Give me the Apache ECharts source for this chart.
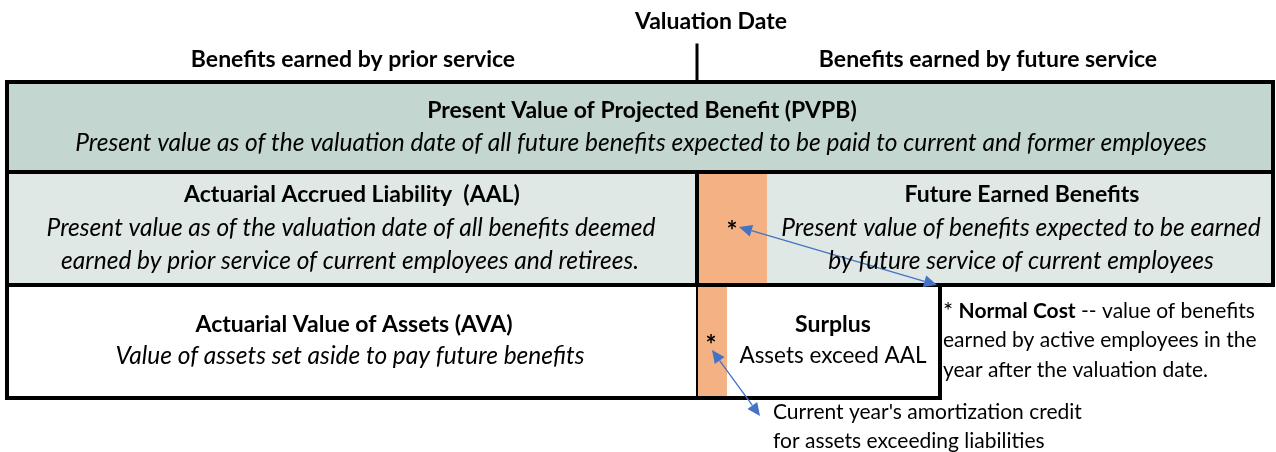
<!DOCTYPE html>
<html>
<head>
<meta charset="utf-8">
<script src="https://cdn.jsdelivr.net/npm/echarts@6/dist/echarts.min.js"></script>
<style>
html, body { margin: 0; padding: 0; background: #fff; }
#main { width: 1276px; height: 452px; }
</style>
</head>
<body>
<div id="main"></div>
<script>
// diagram grid: column and row edges, in frame pixels
var colEdges = [7, 697, 727, 767, 940, 1273];
var rowEdges = [82, 172, 285, 398];

// cells: [col0, col1, row0, row1, fill]
var cells = [
	[0, 5, 0, 1, 'pvpb'],
	[0, 1, 1, 2, 'aal'],
	[1, 3, 1, 2, 'nc'],
	[3, 5, 1, 2, 'aal'],
	[0, 1, 2, 3, 'ava'],
	[1, 2, 2, 3, 'nc'],
	[2, 4, 2, 3, 'ava']
];

// border segments: [x0, y0, x1, y1, weight]
var borders = [
	[697, 45, 697, 82, 3],
	[7, 82, 1273, 82, 4],
	[7, 82, 7, 398, 4],
	[1273, 82, 1273, 285, 4],
	[7, 172, 1273, 172, 4],
	[7, 285, 1273, 285, 4],
	[697, 172, 697, 285, 4],
	[697, 285, 697, 398, 2],
	[940, 285, 940, 398, 4],
	[7, 398, 940, 398, 4]
];

// double headed arrows: [x0, y0, x1, y1]
var arrows = [
	[739, 227, 937, 285],
	[712, 350, 760, 416]
];

// text: [text, x, y, kind, align]
var labels = [
	['Valuation Date', 711, 22, 'b', 'center'],
	['Benefits earned by prior service', 353, 60, 'b', 'center'],
	['Benefits earned by future service', 988, 60, 'b', 'center'],
	['Present Value of Projected Benefit (PVPB)', 642, 111, 'b', 'center'],
	['Present value as of the valuation date of all future benefits expected to be paid to current and former employees', 641, 143, 'i', 'center'],
	['Actuarial Accrued Liability  (AAL)', 352, 195, 'b', 'center'],
	['Present value as of the valuation date of all benefits deemed', 351, 228, 'i', 'center'],
	['earned by prior service of current employees and retirees.', 350, 261, 'i', 'center'],
	['*', 732, 232, 's', 'center'],
	['Future Earned Benefits', 1022, 195, 'b', 'center'],
	['Present value of benefits expected to be earned', 1021, 228, 'i', 'center'],
	['by future service of current employees', 1021, 261, 'i', 'center'],
	['Actuarial Value of Assets (AVA)', 354, 325, 'b', 'center'],
	['Value of assets set aside to pay future benefits', 350, 356, 'i', 'center'],
	['*', 711, 346, 's', 'center'],
	['Surplus', 833, 325, 'b', 'center'],
	['Assets exceed AAL', 833, 356, 'n', 'center'],
	['{a|*} {b|Normal Cost}{s| -- value of benefits}', 943, 311, 'r', 'left'],
	['earned by active employees in the', 943, 340, 'r', 'left'],
	['year after the valuation date.', 943, 370, 'r', 'left'],
	["Current year's amortization credit", 773, 412, 'f', 'left'],
	['for assets exceeding liabilities', 773, 441, 'f', 'left']
];

var fills = { pvpb: '#c3d6cf', aal: '#dfe8e5', nc: '#f4b183', ava: '#ffffff' };
var family = 'Lato, "Open Sans", sans-serif';
var fonts = {
	b: 'bold 23px ' + family,
	i: 'italic 24.5px ' + family,
	n: '22.5px ' + family,
	r: '21px ' + family,
	f: '21px ' + family,
	s: 'bold 26px ' + family
};
var arrowColor = '#4472c4';

var chart = echarts.init(document.getElementById('main'));

var option = {
	animation: false,
	grid: { left: 0, right: 0, top: 0, bottom: 0 },
	xAxis: { type: 'value', min: 0, max: 1276, show: false },
	yAxis: { type: 'value', min: 0, max: 452, inverse: true, show: false },
	series: [
		{
			type: 'custom',
			name: 'cells',
			data: cells.map(function (c) {
				return [colEdges[c[0]], rowEdges[c[2]], colEdges[c[1]], rowEdges[c[3]]];
			}),
			renderItem: function (params, api) {
				var p0 = api.coord([api.value(0), api.value(1)]);
				var p1 = api.coord([api.value(2), api.value(3)]);
				return {
					type: 'rect',
					shape: { x: p0[0], y: p0[1], width: p1[0] - p0[0], height: p1[1] - p0[1] },
					style: { fill: fills[cells[params.dataIndex][4]] }
				};
			},
			z: 1
		},
		{
			type: 'custom',
			name: 'borders',
			data: borders,
			renderItem: function (params, api) {
				var p0 = api.coord([api.value(0), api.value(1)]);
				var p1 = api.coord([api.value(2), api.value(3)]);
				return {
					type: 'line',
					shape: { x1: p0[0], y1: p0[1], x2: p1[0], y2: p1[1] },
					style: { stroke: '#000', lineWidth: api.value(4), lineCap: 'square' }
				};
			},
			z: 2
		},
		{
			type: 'custom',
			name: 'arrows',
			data: arrows,
			renderItem: function (params, api) {
				var a = api.coord([api.value(0), api.value(1)]);
				var b = api.coord([api.value(2), api.value(3)]);
				var dx = b[0] - a[0], dy = b[1] - a[1];
				var len = Math.sqrt(dx * dx + dy * dy);
				var ux = dx / len, uy = dy / len;
				var hl = 13, hw = 6;
				function head(tip, sx, sy) {
					var bx = tip[0] + sx * hl, by = tip[1] + sy * hl;
					return {
						type: 'polygon',
						shape: { points: [tip, [bx - sy * hw, by + sx * hw], [bx + sy * hw, by - sx * hw]] },
						style: { fill: arrowColor }
					};
				}
				return {
					type: 'group',
					children: [
						{
							type: 'line',
							shape: { x1: a[0] + ux * hl, y1: a[1] + uy * hl, x2: b[0] - ux * hl, y2: b[1] - uy * hl },
							style: { stroke: arrowColor, lineWidth: 1.3 }
						},
						head(a, ux, uy),
						head(b, -ux, -uy)
					]
				};
			},
			z: 4
		},
		{
			type: 'custom',
			name: 'labels',
			data: labels.map(function (l, i) { return [l[1], l[2], i]; }),
			renderItem: function (params, api) {
				var l = labels[api.value(2)];
				var p = api.coord([api.value(0), api.value(1)]);
				var style = {
					text: l[0],
					font: fonts[l[3]] || fonts.r,
					fill: '#000',
					align: l[4],
					textAlign: l[4],
					verticalAlign: 'middle',
					textVerticalAlign: 'middle'
				};
				if (l[3] === 'r' && l[0].indexOf('{') === 0) {
					style.rich = {
						a: { font: '24px ' + family, fill: '#000' },
						s: { font: fonts.r, fill: '#000' },
						b: { font: 'bold 21px ' + family, fill: '#000' }
					};
				}
				return { type: 'text', x: p[0], y: p[1], style: style };
			},
			z: 5
		}
	]
};

chart.setOption(option);
</script>
</body>
</html>
